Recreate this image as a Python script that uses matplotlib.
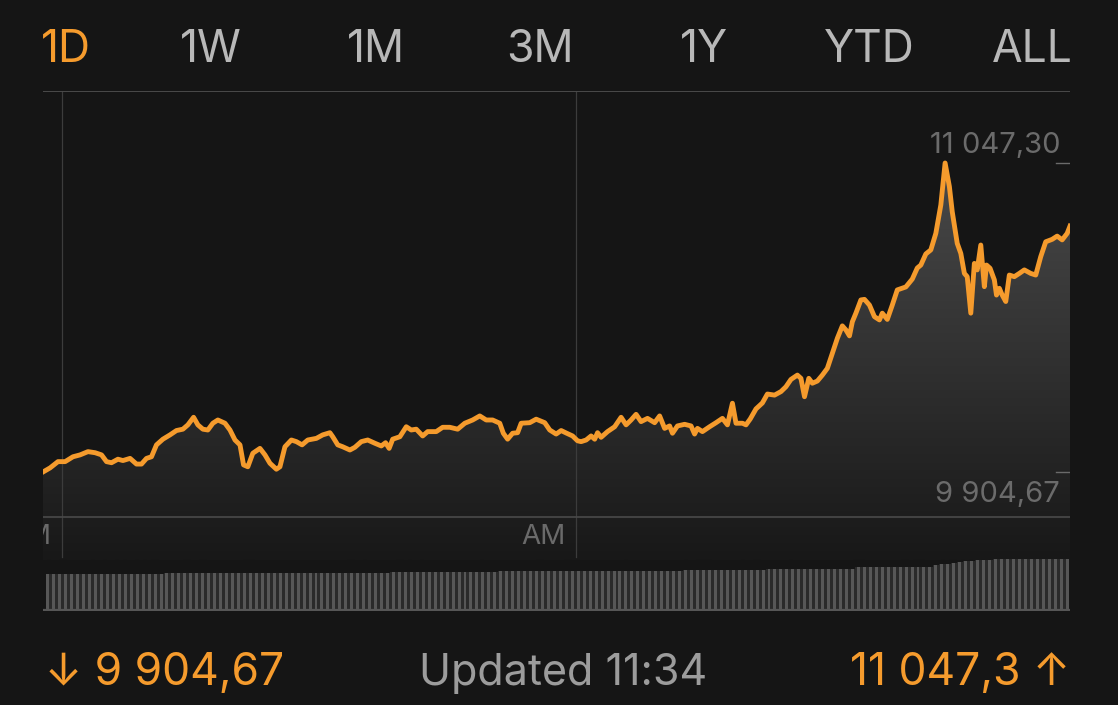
import numpy as np
import matplotlib
matplotlib.use('Agg')
from matplotlib import pyplot as plt
from matplotlib.patches import PathPatch
from matplotlib.colors import LinearSegmentedColormap
from matplotlib import transforms

# 1D view, minutes since 11:33 yesterday
TABS = ['1D', '1W', '1M', '3M', '1Y', 'YTD', 'ALL']
TIME_GRID = [27, 747]          # 12:00 PM, 12:00 AM
TIME_LABELS = ['PM', 'AM']
LOW = 9904.67
HIGH = 11047.30
UPDATED = '11:34'

MINUTES = [0, 10, 21, 31, 42, 52, 63, 73, 82, 89, 96, 105, 112, 122, 131, 138, 145, 152, 159, 168,
           178, 187, 196, 203, 211, 217, 224, 231, 238, 245, 255, 262, 269, 276, 281, 287, 294, 304, 311, 318,
           327, 332, 339, 348, 355, 363, 371, 383, 392, 402, 406, 413, 420, 430, 437, 446, 455, 465, 474, 480,
           485, 490, 500, 509, 516, 523, 532, 539, 551, 560, 570, 581, 591, 602, 612, 621, 630, 640, 645, 651,
           658, 665, 670, 682, 691, 703, 710, 719, 726, 733, 742, 749, 754, 761, 768, 773, 777, 782, 791, 801,
           810, 817, 824, 831, 838, 847, 857, 864, 871, 878, 882, 889, 899, 908, 913, 917, 924, 934, 943, 952,
           959, 966, 971, 980, 985, 991, 999, 1008, 1015, 1025, 1034, 1041, 1048, 1057, 1062, 1067, 1073, 1078, 1085, 1092,
           1099, 1106, 1113, 1120, 1125, 1130, 1134, 1139, 1146, 1151, 1158, 1165, 1172, 1176, 1183, 1190, 1197, 1209, 1218, 1225,
           1230, 1237, 1244, 1251, 1258, 1264, 1270, 1274, 1281, 1286, 1291, 1295, 1300, 1305, 1309, 1314, 1319, 1322, 1327, 1333,
           1336, 1340, 1344, 1349, 1354, 1361, 1368, 1375, 1384, 1391, 1398, 1405, 1414, 1421, 1428, 1435, 1439]

PRICES = [9904.67, 9920, 9943, 9943, 9961, 9968, 9980, 9976, 9968, 9943, 9939, 9952, 9947, 9955, 9934, 9934, 9955, 9961, 10005, 10026,
          10042, 10058, 10063, 10079, 10107, 10079, 10063, 10060, 10085, 10097, 10085, 10060, 10023, 10005, 9931, 9924, 9974, 9992, 9968, 9937,
          9915, 9924, 9998, 10023, 10017, 10005, 10023, 10029, 10042, 10050, 10035, 10005, 9998, 9986, 9996, 10017, 10023, 10011, 10001, 10013,
          9992, 10026, 10035, 10072, 10060, 10063, 10038, 10054, 10054, 10070, 10070, 10063, 10085, 10097, 10112, 10097, 10097, 10085, 10048, 10026,
          10048, 10050, 10085, 10087, 10100, 10087, 10060, 10045, 10058, 10049, 10038, 10020, 10017, 10023, 10038, 10026, 10050, 10033, 10054, 10072,
          10107, 10079, 10097, 10118, 10091, 10103, 10087, 10112, 10066, 10075, 10048, 10075, 10081, 10075, 10045, 10066, 10054, 10072, 10087, 10103,
          10079, 10159, 10085, 10085, 10079, 10101, 10138, 10160, 10193, 10189, 10202, 10220, 10247, 10263, 10251, 10183, 10251, 10233, 10241, 10263,
          10288, 10344, 10399, 10445, 10430, 10408, 10460, 10492, 10541, 10543, 10522, 10479, 10467, 10492, 10469, 10522, 10578, 10589, 10618, 10659,
          10670, 10711, 10726, 10787, 10892, 11047.30, 10960, 10867, 10750, 10713, 10639, 10627, 10492, 10676, 10652, 10744, 10590, 10670, 10658, 10615,
          10559, 10584, 10559, 10535, 10633, 10627, 10639, 10652, 10639, 10633, 10701, 10756, 10765, 10777, 10763, 10787, 10814]

# cumulative volume, (number of bars, level)
VOLUME_RUNS = [(20, 35.8), (20, 36.6), (18, 37.3), (18, 38.0), (17, 38.7), (14, 39.2), (14, 40.0),
               (15, 41.5), (13, 43.5), (1, 45.0), (1, 46.0), (1, 46.5), (1, 47.3), (1, 48.0), (1, 48.7),
               (1, 49.2), (1, 49.8), (1, 50.2), (1, 50.5), (13, 51.0)]

BG = '#151515'
ORANGE = '#f59b2d'
W, H = 1118, 705

plt.rcParams['font.family'] = ['Inter', 'DejaVu Sans']

fig = plt.figure(figsize=(W / 100, H / 100), dpi=100, facecolor=BG)


def fx(px):
    return px / W


def fy(py):
    return 1 - py / H


# main price axes: pixels x 43..1070, y 91..560
ax = fig.add_axes([fx(43), fy(560), fx(1070) - fx(43), fy(91) - fy(560)])
ax.set_facecolor(BG)
for s in ax.spines.values():
    s.set_visible(False)
ax.set_xticks([])
ax.set_yticks([])

span = HIGH - LOW
y_top = HIGH + span * 72 / 309
y_bot = LOW - span * 88 / 309
ax.set_xlim(0, 1439)
ax.set_ylim(y_bot, y_top)

# gradient fill under the line
poly = ax.fill_between(MINUTES, PRICES, y_bot, color='none', lw=0)
clip = PathPatch(poly.get_paths()[0], transform=ax.transData, facecolor='none', edgecolor='none')
ax.add_patch(clip)
cmap = LinearSegmentedColormap.from_list('g', ['#181818', '#525252'])
grad = np.linspace(1, 0, 256).reshape(-1, 1)
im = ax.imshow(grad, extent=[0, 1439, y_bot, y_top], aspect='auto', cmap=cmap, zorder=1)
im.set_clip_path(clip)

ax.plot(MINUTES, PRICES, color=ORANGE, lw=3.5, solid_joinstyle='round', zorder=4)

# frame lines
ax.axhline(y_top, color='#4a4a4a', lw=1.4, zorder=3)
ax.axhline(y_bot + span * 43 / 309, color='#4a4a4a', lw=1.2, zorder=3)
for t in TIME_GRID:
    ax.axvline(t, ymin=0.006, ymax=1, color='#3c3c3c', lw=0.9, zorder=2)

# time labels, left of gridline (PM gets clipped at the left edge)
for t, lab in zip(TIME_GRID, TIME_LABELS):
    tr = transforms.offset_copy(transforms.blended_transform_factory(ax.transData, ax.transAxes),
                                fig=fig, x=-11, y=0, units='dots')
    ax.text(t, 0.049, lab, transform=tr, ha='right', va='center', fontsize=20,
            color='#6a6a6a', clip_on=True)

# high / low markers on the right
blend = transforms.blended_transform_factory(ax.transAxes, ax.transData)
for val in (HIGH, LOW):
    ax.plot([0.9864, 1.0], [val, val], transform=blend, color='#6a6a6a', lw=1.0, zorder=3)
hi_tr = transforms.offset_copy(blend, fig=fig, x=0, y=10, units='dots')
lo_tr = transforms.offset_copy(blend, fig=fig, x=0, y=-30, units='dots')
ax.text(0.9903, HIGH, '11 047,30', transform=hi_tr, ha='right', va='baseline',
        fontsize=21, color='#6b6b6b', zorder=5)
ax.text(0.9903, LOW, '9 904,67', transform=lo_tr, ha='right', va='baseline',
        fontsize=21, color='#6b6b6b', zorder=5)

# volume bars
vol = []
for n, lev in VOLUME_RUNS:
    vol += [lev] * n
vol = np.array(vol)
vax = fig.add_axes([fx(43), fy(611), fx(1070) - fx(43), fy(556) - fy(611)])
vax.set_facecolor('none')
for s in vax.spines.values():
    s.set_visible(False)
vax.set_xticks([])
vax.set_yticks([])
idx = np.arange(len(vol))
vax.set_xlim(-0.8, len(vol) - 0.5)
vax.set_ylim(-1, 54)
vax.fill_between(idx, vol, 0, step='mid', color='#2a2a2a', lw=0)
vax.bar(idx, vol, width=0.5, color='#575757', lw=0)
vax.axhline(0, color='#565656', lw=1.6)

# tabs on top
tab_x = [66, 211, 376, 540, 704, 869, 1032]
for i, (lab, x) in enumerate(zip(TABS, tab_x)):
    fig.text(fx(x), fy(62), lab, ha='center', va='baseline', fontsize=32,
             color=ORANGE if i == 0 else '#b8b8b8')

# bottom row
fig.text(fx(45), fy(685), '↓ 9 904,67', ha='left', va='baseline', fontsize=32, color=ORANGE)
fig.text(fx(563), fy(685), 'Updated ' + UPDATED, ha='center', va='baseline', fontsize=31, color='#9c9c9c')
fig.text(fx(1070), fy(685), '11 047,3 ↑', ha='right', va='baseline', fontsize=32, color=ORANGE)

fig.savefig('out.png', dpi=100, facecolor=BG)
